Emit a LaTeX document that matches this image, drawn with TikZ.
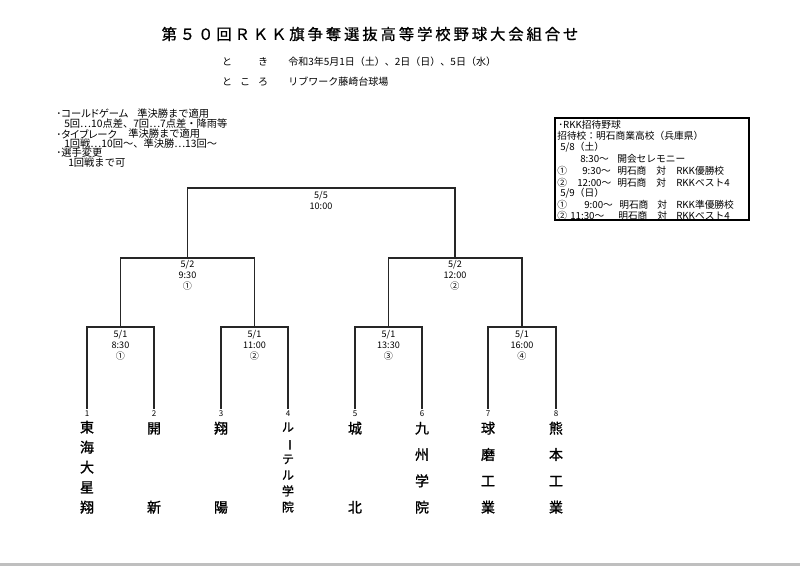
\documentclass[tikz,border=0pt]{standalone}
\usepackage{fontspec}
\usepackage{graphicx}
\setmainfont{Noto Sans CJK JP}
\begin{document}
\begin{tikzpicture}[x=0.75pt,y=-0.75pt,
  ln/.style={line width=1.1pt, draw=black!85},
  boxln/.style={line width=0.8pt, draw=black},
  ttl/.style={inner sep=0pt, font=\fontsize{11.5}{13}\selectfont\addfontfeature{LetterSpace=19,FakeBold=0.8}},
  info/.style={inner sep=0pt, font=\fontsize{7.5}{9}\selectfont},
  note/.style={inner sep=0pt, anchor=west, font=\fontsize{7.7}{9}\selectfont},
  kana/.style={font=\fontsize{7.7}{9}\selectfont\addfontfeature{RawFeature=+palt}},
  bx/.style={inner sep=0pt, anchor=west, font=\fontsize{7.3}{9}\selectfont},
  lab/.style={inner sep=0pt, anchor=base, align=center, font=\fontsize{6.8}{8.25}\selectfont},
  num/.style={inner sep=0pt, anchor=base, font=\fontsize{6}{6}\selectfont},
  team/.style={inner sep=0pt, anchor=base, align=center, font=\fontsize{10.5}{#1}\selectfont\addfontfeature{FakeBold=1.2}},
]
\useasboundingbox (0,0) rectangle (800,566);
\fill[white] (0,0) rectangle (800,566);
\fill[black!25] (0,563) rectangle (800,566);

% title
\node[ttl] (title) at (370,34) {第５０回ＲＫＫ旗争奪選抜高等学校野球大会組合せ};
\node[info] (t1a) at (227,62) {と};
\node[info] (t1b) at (263,62) {き};
\node[info,anchor=west] (t1c) at (288,62) {令和3年5月1日（土）、2日（日）、5日（水）};
\node[info] (t2a) at (227,82) {と};
\node[info] (t2b) at (245,82) {こ};
\node[info] (t2c) at (263,82) {ろ};
\node[info,anchor=west] (t2d) at (288,82) {リブワーク藤崎台球場};

% notes
\node[note,kana] (a1) at (56,114) {･コールドゲーム};
\node[note] (a2) at (137,114) {準決勝まで適用};
\node[note] (a3) at (64,124) {5回…10点差、7回…7点差・降雨等};
\node[note,kana] (a4) at (56,134) {･タイブレーク};
\node[note] (a5) at (128,134) {準決勝まで適用};
\node[note] (a6) at (64,144) {1回戦…10回～、準決勝…13回～};
\node[note] (a7) at (56,153) {･選手変更};
\node[note] (a8) at (68,163) {1回戦まで可};

% invitation box
\draw[boxln] (555,118) rectangle (749,220);
\node[bx] (b1) at (558,125) {･RKK招待野球};
\node[bx] (b2) at (557,136) {招待校：明石商業高校（兵庫県）};
\node[bx] (b3) at (560,147) {5/8（土）};
\node[bx] (b4a) at (580,159) {8:30～};
\node[bx] (b4b) at (617,159) {開会セレモニー};
\node[bx] (b5a) at (557,171) {①};
\node[bx] (b5b) at (582,171) {9:30～};
\node[bx] (b5c) at (617,171) {明石商};
\node[bx] (b5d) at (656,171) {対};
\node[bx] (b5e) at (676,171) {RKK優勝校};
\node[bx] (b6a) at (557,183) {②};
\node[bx] (b6b) at (577,183) {12:00～};
\node[bx] (b6c) at (617,183) {明石商};
\node[bx] (b6d) at (656,183) {対};
\node[bx] (b6e) at (676,183) {RKKベスト4};
\node[bx] (b7) at (560,193) {5/9（日）};
\node[bx] (b8a) at (557,205) {①};
\node[bx] (b8b) at (584,205) {9:00～};
\node[bx] (b8c) at (619,205) {明石商};
\node[bx] (b8d) at (657,205) {対};
\node[bx] (b8e) at (676,205) {RKK準優勝校};
\node[bx] (b9a) at (557,216) {②};
\node[bx] (b9b) at (570,216) {11:30～};
\node[bx] (b9c) at (618,216) {明石商};
\node[bx] (b9d) at (657,216) {対};
\node[bx] (b9e) at (676,216) {RKKベスト4};

% bracket coordinates
\foreach \i/\x in {1/87,2/154,3/221,4/288,5/355,6/422,7/488,8/556}{
  \coordinate (L\i) at (\x,409);
  \node[num] (n\i) at (\x,417) {\i};
}
\coordinate (j1) at (120.5,327);
\coordinate (j2) at (254.5,327);
\coordinate (j3) at (388.5,327);
\coordinate (j4) at (522,327);
\coordinate (s1) at (187.5,258);
\coordinate (s2) at (455,258);
\coordinate (f) at (321,188);

\draw[ln] (L1) |- (j1) -| (L2);
\draw[ln] (L3) |- (j2) -| (L4);
\draw[ln] (L5) |- (j3) -| (L6);
\draw[ln] (L7) |- (j4) -| (L8);
\draw[ln] (j1) |- (s1) -| (j2);
\draw[ln] (j3) |- (s2) -| (j4);
\draw[ln] (s1) |- (f) -| (s2);

% match labels (anchor = baseline of last line)
\node[lab] (mf) at (321,209.3) {5/5\\10:00};
\node[lab] (ms1) at (187.5,289.3) {5/2\\9:30\\①};
\node[lab] (ms2) at (455,289.3) {5/2\\12:00\\②};
\node[lab] (m1) at (120.5,359.3) {5/1\\8:30\\①};
\node[lab] (m2) at (254.5,359.3) {5/1\\11:00\\②};
\node[lab] (m3) at (388.5,359.3) {5/1\\13:30\\③};
\node[lab] (m4) at (522,359.3) {5/1\\16:00\\④};

% teams (anchor = baseline of last character)
\node[team=15] (tm1) at (87,512.5) {東\\海\\大\\星\\翔};
\node[team=59.25] (tm2) at (154,512.5) {開\\新};
\node[team=59.25] (tm3) at (221,512.5) {翔\\陽};
\node[inner sep=0pt, anchor=base, align=center, font=\fontsize{9}{12}\selectfont\addfontfeature{FakeBold=1}] (tm4) at (288,511.5) {ル\\\rotatebox[origin=c]{-90}{ー}\\テ\\ル\\学\\院};
\node[team=59.25] (tm5) at (355,512.5) {城\\北};
\node[team=19.75] (tm6) at (422,512.5) {九\\州\\学\\院};
\node[team=19.75] (tm7) at (488,512.5) {球\\磨\\工\\業};
\node[team=19.75] (tm8) at (556,512.5) {熊\\本\\工\\業};
\end{tikzpicture}
\end{document}
